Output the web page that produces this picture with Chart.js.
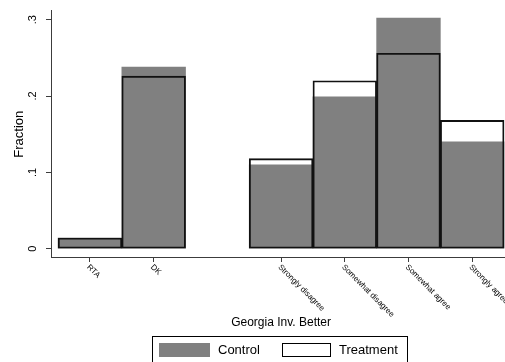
<html>
<head>
  <meta charset="utf-8" />
  <style>
    body { margin: 0; background: #fff; }
    .chart-box { width: 505px; height: 362px; position: relative; }
  </style>
</head>
<body>
  <script src="https://cdn.jsdelivr.net/npm/chart.js@4.4.0/dist/chart.umd.min.js"></script>
  <div class="chart-box">
    <canvas id="histChart"></canvas>
  </div>
  <script>
    // chart data
    let categoryLabels = ["RTA", "DK", "Strongly disagree", "Somewhat disagree", "Somewhat agree", "Strongly agree"];
    let categoryPositions = [0, 1, 3, 4, 5, 6];
    let controlValues = [0.014, 0.238, 0.110, 0.199, 0.302, 0.140];
    let treatmentValues = [0.014, 0.226, 0.118, 0.220, 0.256, 0.168];
    let yTickValues = [0, 0.1, 0.2, 0.3];
    let yTickLabels = ["0", ".1", ".2", ".3"];
    let seriesNames = ["Control", "Treatment"];

    // chart colors / fonts
    let chartBarGray = "#808080";
    let chartAxisColor = "#3c3c3c";
    let chartFont = "'Liberation Sans', Arial, Helvetica, sans-serif";

    function toPoints(values) {
      return values.map((v, i) => ({ x: categoryPositions[i], y: v }));
    }

    // labels, titles and legend drawn in Stata style
    const stataDecor = {
      id: "stataDecor",
      afterDraw(chart) {
        const ctx = chart.ctx;
        const xs = chart.scales.x;
        const ys = chart.scales.y;
        const area = chart.chartArea;
        ctx.save();
        ctx.fillStyle = "#000";

        // y tick labels, vertical
        ctx.font = "11px " + chartFont;
        ctx.textAlign = "center";
        ctx.textBaseline = "middle";
        yTickValues.forEach((v, i) => {
          ctx.save();
          ctx.translate(area.left - 18, ys.getPixelForValue(v));
          ctx.rotate(-Math.PI / 2);
          ctx.fillText(yTickLabels[i], 0, 0);
          ctx.restore();
        });

        // y title
        ctx.font = "13px " + chartFont;
        ctx.save();
        ctx.translate(19, ys.getPixelForValue(0.15));
        ctx.rotate(-Math.PI / 2);
        ctx.fillText("Fraction", 0, 0);
        ctx.restore();

        // x tick labels, 45 degrees
        ctx.font = "8px " + chartFont;
        ctx.textAlign = "left";
        ctx.textBaseline = "top";
        categoryLabels.forEach((lab, i) => {
          ctx.save();
          ctx.translate(xs.getPixelForValue(categoryPositions[i]) + 1, area.bottom + 6);
          ctx.rotate(Math.PI / 4);
          ctx.fillText(lab, 0, 0);
          ctx.restore();
        });

        // x title
        ctx.font = "12px " + chartFont;
        ctx.textAlign = "center";
        ctx.textBaseline = "middle";
        ctx.fillText("Georgia Inv. Better", xs.getPixelForValue(3), 323);

        // legend
        ctx.strokeStyle = "#000";
        ctx.lineWidth = 1;
        ctx.strokeRect(152.5, 336.5, 255, 40);
        ctx.fillStyle = chartBarGray;
        ctx.fillRect(159, 343, 51, 14);
        ctx.strokeRect(282.5, 343.5, 48, 13);
        ctx.fillStyle = "#000";
        ctx.font = "13px " + chartFont;
        ctx.textAlign = "left";
        ctx.fillText(seriesNames[0], 218, 350.5);
        ctx.fillText(seriesNames[1], 339, 350.5);
        ctx.restore();
      },
    };

    let ctx = document.getElementById("histChart").getContext("2d");
    new Chart(ctx, {
      type: "bar",
      data: {
        datasets: [
          {
            label: seriesNames[0],
            data: toPoints(controlValues),
            backgroundColor: chartBarGray,
            borderWidth: 0,
            grouped: false,
            barPercentage: 1,
            categoryPercentage: 1,
            order: 2,
          },
          {
            label: seriesNames[1],
            data: toPoints(treatmentValues),
            backgroundColor: "rgba(0,0,0,0)",
            borderColor: "#111",
            borderWidth: 1.2,
            borderSkipped: false,
            grouped: false,
            barPercentage: 1,
            categoryPercentage: 1,
            order: 1,
          },
        ],
      },
      options: {
        responsive: true,
        maintainAspectRatio: false,
        animation: false,
        layout: { padding: { left: 46, top: 10, right: 0, bottom: 100 } },
        plugins: { legend: { display: false }, tooltip: { enabled: false } },
        scales: {
          x: {
            type: "linear",
            min: -0.612,
            max: 6.515,
            offset: false,
            afterBuildTicks: (axis) => {
              axis.ticks = categoryPositions.map((p) => ({ value: p }));
            },
            ticks: { display: false },
            grid: { offset: false, drawOnChartArea: false, tickLength: 5, tickColor: chartAxisColor },
            border: { color: chartAxisColor, width: 1 },
          },
          y: {
            min: -0.0109,
            max: 0.3127,
            afterBuildTicks: (axis) => {
              axis.ticks = yTickValues.map((v) => ({ value: v }));
            },
            ticks: { display: false },
            grid: { drawOnChartArea: false, tickLength: 5, tickColor: chartAxisColor },
            border: { color: chartAxisColor, width: 1 },
          },
        },
      },
      plugins: [stataDecor],
    });
  </script>
</body>
</html>
